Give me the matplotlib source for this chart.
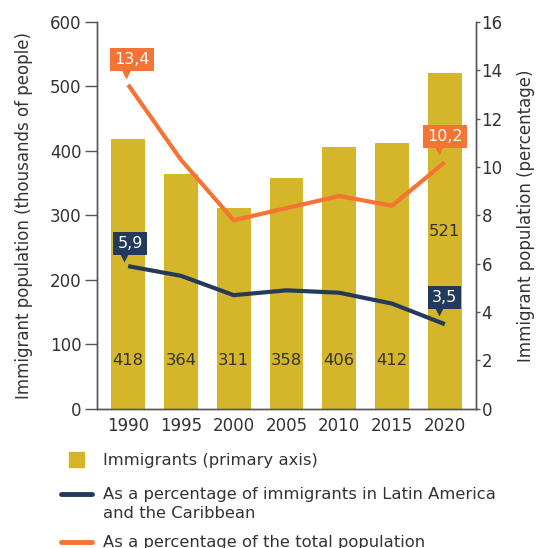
import matplotlib
matplotlib.use("Agg")
import matplotlib.pyplot as plt
import matplotlib.transforms as mtransforms
from matplotlib.lines import Line2D
from matplotlib.patches import Rectangle

years = ["1990", "1995", "2000", "2005", "2010", "2015", "2020"]
immigrants = [418, 364, 311, 358, 406, 412, 521]
pct_latam = [5.9, 5.5, 4.7, 4.9, 4.8, 4.35, 3.5]
pct_total = [13.4, 10.3, 7.8, 8.3, 8.8, 8.4, 10.2]

gold = "#D5B52A"
orange = "#F47335"
navy = "#233A5A"
txt = "#333333"
plt.rcParams["font.family"] = ["DejaVu Sans"]

fig = plt.figure(figsize=(5.36, 5.48), dpi=100)
ax = fig.add_axes([0.181, 0.254, 0.707, 0.706])
ax2 = ax.twinx()

x = list(range(len(years)))
ax.bar(x, immigrants, width=0.64, color=gold, zorder=1)
for i, v in enumerate(immigrants[:-1]):
    ax.text(i, 75, str(v), ha="center", va="center", fontsize=11.8, color=txt)
ax.text(6, 275, str(immigrants[-1]), ha="center", va="center", fontsize=11.8, color=txt)

ax2.plot(x, pct_total, color=orange, lw=3, solid_capstyle="butt", zorder=3)
ax2.plot(x, pct_latam, color=navy, lw=3, solid_capstyle="butt", zorder=3)

ax.set_xlim(-0.59, 6.59)
ax.set_ylim(0, 600)
ax2.set_ylim(0, 16)
ax.set_xticks(x)
ax.set_xticklabels(years)
ax.set_yticks(range(0, 601, 100))
ax2.set_yticks(range(0, 17, 2))

for a in (ax, ax2):
    a.spines["top"].set_visible(False)
    for s in ("left", "right", "bottom"):
        a.spines[s].set_color("#555555")
        a.spines[s].set_linewidth(1)
    a.tick_params(colors="#555555", labelcolor=txt, labelsize=12, width=1)
ax.tick_params(axis="y", length=9, pad=2)
ax.tick_params(axis="x", length=0, pad=6)
ax2.tick_params(axis="y", length=3, pad=1)

ax.set_ylabel("Immigrant population (thousands of people)", fontsize=12, color=txt, labelpad=12)
ax2.set_ylabel("Immigrant population (percentage)", fontsize=12, color=txt, labelpad=10)


def callout(i, v, label, color, dx, dy):
    tr = mtransforms.offset_copy(ax2.transData, fig=fig, x=dx, y=dy, units="dots")
    ax2.text(i, v, label, transform=tr, ha="center", va="center", fontsize=11.5, color="white",
             zorder=5, bbox=dict(boxstyle="square,pad=0.25", fc=color, ec="none"))
    tr2 = mtransforms.offset_copy(ax2.transData, fig=fig, x=dx - 6, y=dy - 14, units="dots")
    ax2.plot([i], [v], transform=tr2, marker="v", ms=7, color=color, mec="none", zorder=5)


callout(0, pct_total[0], "13,4", orange, 4, 25)
callout(0, pct_latam[0], "5,9", navy, 2, 23)
callout(6, pct_latam[-1], "3,5", navy, 0, 27)
callout(6, pct_total[-1], "10,2", orange, 0, 26)

# legend drawn by hand
fig.add_artist(Rectangle((69 / 536, 1 - 467 / 548), 15 / 536, 15 / 548, transform=fig.transFigure, color=gold))
fig.text(103 / 536, 1 - 461 / 548, "Immigrants (primary axis)", fontsize=11.8, color=txt, va="center")
fig.add_artist(Line2D([61 / 536, 92 / 536], [1 - 494 / 548] * 2, transform=fig.transFigure, color=navy, lw=3.5,
                      solid_capstyle="round"))
fig.text(103 / 536, 1 - 494 / 548, "As a percentage of immigrants in Latin America", fontsize=11.8, color=txt, va="center")
fig.text(103 / 536, 1 - 514 / 548, "and the Caribbean", fontsize=11.8, color=txt, va="center")
fig.add_artist(Line2D([61 / 536, 92 / 536], [1 - 542 / 548] * 2, transform=fig.transFigure, color=orange, lw=3.5,
                      solid_capstyle="round"))
fig.text(103 / 536, 1 - 542 / 548, "As a percentage of the total population", fontsize=11.8, color=txt, va="center")

fig.savefig("out.png", dpi=100)
